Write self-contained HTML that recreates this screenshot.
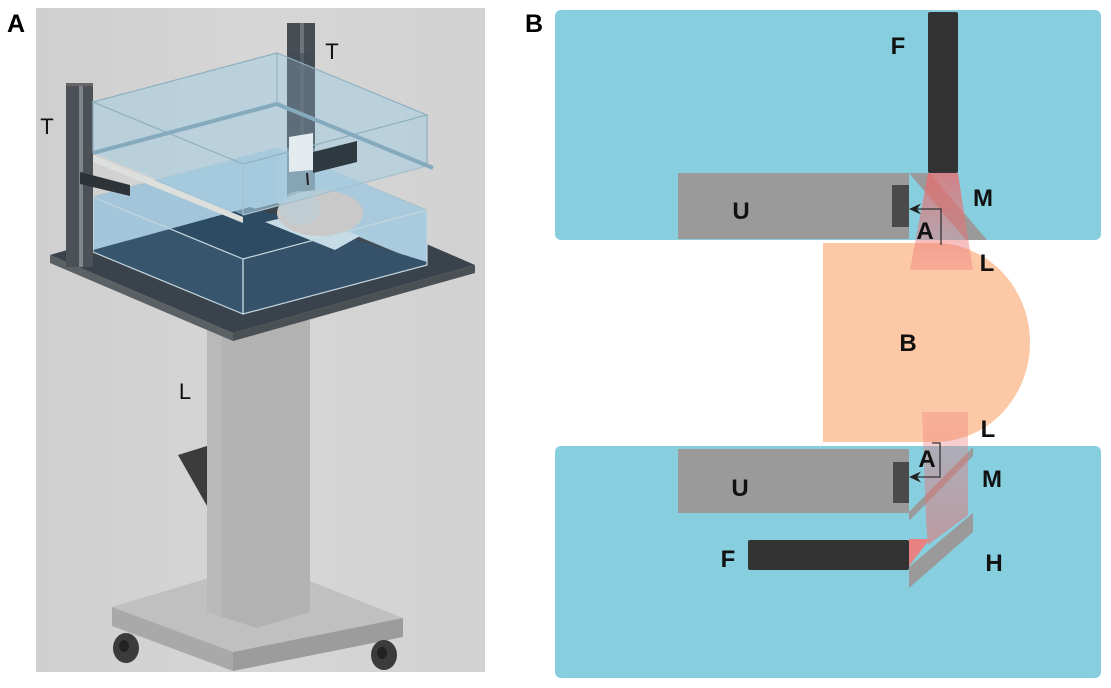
<!DOCTYPE html>
<html><head><meta charset="utf-8"><style>
html,body{margin:0;padding:0;background:#fff;}
svg{display:block;}
text{font-family:"Liberation Sans",Arial,sans-serif;}
</style></head><body>
<svg width="1111" height="688" viewBox="0 0 1111 688" xmlns="http://www.w3.org/2000/svg">
<defs>
<linearGradient id="bg" x1="0" y1="0" x2="1" y2="0"><stop offset="0" stop-color="#cfcfcf"/><stop offset="0.5" stop-color="#d6d6d6"/><stop offset="1" stop-color="#d2d2d2"/></linearGradient>
<linearGradient id="beam1" x1="0" y1="0" x2="0" y2="1"><stop offset="0" stop-color="rgb(235,105,105)" stop-opacity="0.75"/><stop offset="1" stop-color="rgb(235,120,120)" stop-opacity="0.35"/></linearGradient>
<linearGradient id="beam2" x1="0" y1="0" x2="0" y2="1"><stop offset="0" stop-color="rgb(235,120,120)" stop-opacity="0.3"/><stop offset="1" stop-color="rgb(235,110,110)" stop-opacity="0.55"/></linearGradient>
</defs>

<!-- Panel A -->
<rect x="36" y="8" width="449" height="664" fill="url(#bg)"/>
<!-- base plate -->
<polygon points="112,607 262,562 403,618 233,652" fill="#c0c0c0"/>
<polygon points="112,607 233,652 233,671 112,626" fill="#a9a9a9"/>
<polygon points="233,652 403,618 403,637 233,671" fill="#9c9c9c"/>
<!-- pillar -->
<polygon points="207,320 310,320 310,612 257,628 207,612" fill="#b2b2b2"/>
<polygon points="207,320 222,320 222,617 207,612" fill="#b9b9b9"/>
<!-- wheels -->
<ellipse cx="126" cy="648" rx="13" ry="15" fill="#3b3b3b"/>
<ellipse cx="124" cy="646" rx="5" ry="6" fill="#222"/>
<ellipse cx="384" cy="655" rx="13" ry="15" fill="#3b3b3b"/>
<ellipse cx="382" cy="653" rx="5" ry="6" fill="#222"/>
<!-- wedge -->
<polygon points="178,455 207,446 207,506" fill="#3c3c3c"/>
<!-- tabletop -->
<polygon points="50,255 290,185 475,265 233,333" fill="#3a434b"/>
<polygon points="50,255 233,333 233,341 50,263" fill="#5b6065"/>
<polygon points="233,333 475,265 475,273 233,341" fill="#4b5055"/>
<!-- right post -->
<rect x="287" y="23" width="28" height="180" fill="#474d53"/>
<rect x="300" y="23" width="4" height="180" fill="#6e747a"/>
<!-- lower tank back walls -->
<polygon points="93,197 277,148 277,203 93,252" fill="#a3c5d9"/>
<polygon points="277,148 427,210 427,265 277,203" fill="#a9cadd"/>
<rect x="287" y="148" width="28" height="55" fill="#3f4d58" fill-opacity="0.8"/>
<!-- lower tank floor -->
<polygon points="93,250 250,207 427,262 427,265 243,314 93,252" fill="#2d4b63"/>
<!-- platform and phantom -->
<polygon points="265,222 300,214 360,236 335,250" fill="#c6dce6"/>
<ellipse cx="320" cy="213" rx="43" ry="23" fill="#c9c9c9"/>
<ellipse cx="300" cy="208" rx="20" ry="17" fill="#b9cfd9" fill-opacity="0.6"/>
<!-- front walls of lower tank -->
<polygon points="93,197 243,259 243,314 93,252" fill="#b6d3e2" fill-opacity="0.08" stroke="#c4d6de" stroke-width="1.2"/>
<polygon points="243,259 427,210 427,265 243,314" fill="#b6d3e2" fill-opacity="0.06" stroke="#c4d6de" stroke-width="1.2"/>
<polyline points="93,197 277,148 427,210" fill="none" stroke="#a8c2ce" stroke-width="1"/>
<line x1="277" y1="148" x2="277" y2="203" stroke="#a8c2ce" stroke-width="1"/>
<!-- left post -->
<rect x="66" y="83" width="27" height="184" fill="#4b5157"/>
<rect x="79" y="83" width="4" height="184" fill="#80868b"/>
<rect x="66" y="83" width="27" height="3" fill="#666"/>
<!-- arm -->
<polygon points="80,172 130,185 130,196 80,184" fill="#2e3338"/>
<!-- upper tank -->
<polygon points="93,102 277,53 427,115 427,166 243,215 93,153" fill="#a8cde0" fill-opacity="0.6"/>
<rect x="287" y="53" width="28" height="95" fill="#3f4b55" fill-opacity="0.55"/>
<polygon points="93,102 277,53 427,115 243,164" fill="none" stroke="#8fb0c0" stroke-width="1.2"/>
<line x1="277" y1="53" x2="277" y2="104" stroke="#8fb0c0" stroke-width="1"/>
<line x1="93" y1="102" x2="93" y2="153" stroke="#8fb0c0" stroke-width="1.2"/>
<line x1="427" y1="115" x2="427" y2="166" stroke="#8fb0c0" stroke-width="1.2"/>
<line x1="243" y1="164" x2="243" y2="215" stroke="#a6c0cc" stroke-width="1.2"/>
<line x1="243" y1="215" x2="427" y2="166" stroke="#a6c0cc" stroke-width="1.2"/>
<polyline points="93,153 277,104 433,168" fill="none" stroke="#86aabd" stroke-width="4"/>
<!-- transducer holder -->
<polygon points="289,137 313,133 313,170 289,172" fill="#e3ebee"/>
<polygon points="313,152 357,141 357,162 313,173" fill="#2f3a40"/>
<line x1="307" y1="173" x2="308" y2="185" stroke="#222" stroke-width="2"/>
<!-- rail -->
<polygon points="93,155 243,217 243,223 93,162" fill="#dcdfdb"/>
<!-- labels panel A -->
<text x="47" y="134" font-size="22" text-anchor="middle" fill="#111">T</text>
<text x="332" y="59" font-size="22" text-anchor="middle" fill="#111">T</text>
<text x="185" y="399" font-size="22" text-anchor="middle" fill="#111">L</text>
<text x="16" y="32" font-size="25" font-weight="bold" text-anchor="middle" fill="#000">A</text>

<!-- Panel B -->
<text x="534" y="32" font-size="25" font-weight="bold" text-anchor="middle" fill="#000">B</text>
<rect x="555" y="10" width="546" height="230" rx="6" fill="#87cedf"/>
<rect x="555" y="446" width="546" height="232" rx="6" fill="#87cedf"/>
<!-- B shape -->
<path d="M823,243 H935 A95,99.5 0 0 1 935,442 H823 Z" fill="#fdc8a6"/>
<!-- upper -->
<rect x="678" y="173" width="231" height="66" fill="#9a9a9a"/>
<polygon points="909,173 930,173 987,240 966,240" fill="#9a9a9a"/>
<rect x="928" y="12" width="30" height="161" rx="2" fill="#333"/>
<rect x="892" y="185" width="17" height="42" fill="#4a4a4a"/>
<polygon points="928,173 958,173 973,270 910,270" fill="url(#beam1)"/>
<path d="M941,245 V209 H912" fill="none" stroke="#333" stroke-width="1.3"/>
<polygon points="909,209 921,203.5 917,209 921,214.5" fill="#222"/>
<!-- lower -->
<rect x="678" y="449" width="231" height="64" fill="#9a9a9a"/>
<rect x="893" y="462" width="16" height="41" fill="#4a4a4a"/>
<rect x="748" y="540" width="161" height="30" rx="2" fill="#333"/>
<polygon points="909,512 973,447 973,456 909,521" fill="#9a9a9a"/>
<polygon points="909,567 973,513 973,532 909,588" fill="#9a9a9a"/>
<polygon points="922,412 968,412 968,515 928,545 926,520" fill="url(#beam2)"/>
<polygon points="909,539 930,539 909,566" fill="#e88282"/>
<path d="M932,443 H940 V477 H912" fill="none" stroke="#333" stroke-width="1.3"/>
<polygon points="909,477 921,471.5 917,477 921,482.5" fill="#222"/>
<!-- labels panel B -->
<g font-size="24" font-weight="bold" fill="#111" text-anchor="middle">
<text x="898" y="54">F</text>
<text x="741" y="219">U</text>
<text x="983" y="206">M</text>
<text x="925" y="239">A</text>
<text x="987" y="271">L</text>
<text x="908" y="351">B</text>
<text x="988" y="437">L</text>
<text x="927" y="467">A</text>
<text x="992" y="487">M</text>
<text x="740" y="496">U</text>
<text x="728" y="567">F</text>
<text x="994" y="571">H</text>
</g>
</svg>
</body></html>
